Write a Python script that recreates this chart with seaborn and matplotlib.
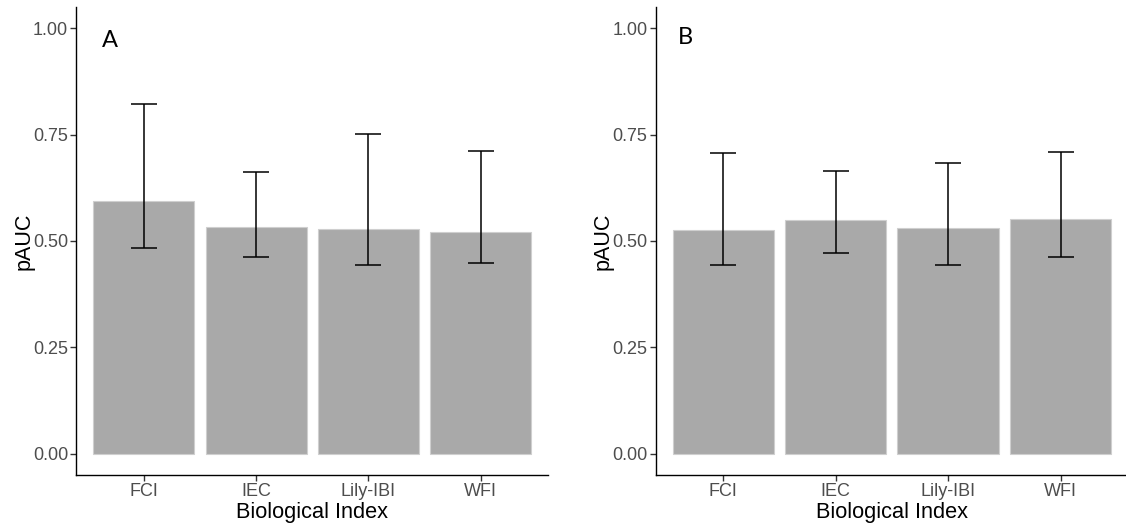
import numpy as np
import pandas as pd
import matplotlib
matplotlib.use("Agg")
import matplotlib.pyplot as plt
import seaborn as sns

# Biological indices and partial AUC estimates with confidence limits
indices = ["FCI", "IEC", "Lily-IBI", "WFI"]

pauc_a = [0.594, 0.533, 0.527, 0.522]
lower_a = [0.484, 0.462, 0.444, 0.449]
upper_a = [0.821, 0.663, 0.751, 0.711]

pauc_b = [0.525, 0.549, 0.530, 0.551]
lower_b = [0.444, 0.471, 0.444, 0.462]
upper_b = [0.706, 0.665, 0.684, 0.708]

panel_labels = ["A", "B"]
y_ticks = [0.00, 0.25, 0.50, 0.75, 1.00]

sns.set_style("ticks")
plt.rcParams["font.family"] = ["Liberation Sans", "DejaVu Sans"]

fig = plt.figure(figsize=(11.26, 5.31), dpi=100)
ax_a = fig.add_axes([0.0679, 0.1055, 0.4187, 0.8814])
ax_b = fig.add_axes([0.5823, 0.1055, 0.4195, 0.8814])

panels = [
    (ax_a, pauc_a, lower_a, upper_a, (0.071, 0.929)),
    (ax_b, pauc_b, lower_b, upper_b, (0.064, 0.934)),
]

for (ax, vals, lo, hi, lab_pos), lab in zip(panels, panel_labels):
    df = pd.DataFrame({"Biological Index": indices, "pAUC": vals})
    sns.barplot(data=df, x="Biological Index", y="pAUC", ax=ax,
                color="#A9A9A9", saturation=1, width=0.9,
                edgecolor="#CFCFCF", linewidth=0.8, errorbar=None)
    pos = np.arange(len(indices))
    v = np.array(vals)
    yerr = np.vstack([v - np.array(lo), np.array(hi) - v])
    ax.errorbar(pos, v, yerr=yerr, fmt="none", ecolor="black",
                elinewidth=1.1, capsize=9.7, capthick=1.1, zorder=5)

    ax.set_xlim(-0.6, 3.6)
    ax.set_ylim(-0.05, 1.05)
    ax.set_yticks(y_ticks)
    ax.set_yticklabels([f"{t:.2f}" for t in y_ticks])
    ax.set_xlabel("Biological Index", fontsize=15.7, color="black", labelpad=1)
    ax.set_ylabel("pAUC", fontsize=15.5, color="black", labelpad=-1)
    ax.tick_params(axis="both", labelsize=13, labelcolor="#4D4D4D",
                   color="#333333", length=4, width=1, pad=2)
    for side in ["top", "right"]:
        ax.spines[side].set_visible(False)
    for side in ["left", "bottom"]:
        ax.spines[side].set_color("black")
        ax.spines[side].set_linewidth(1.0)
    ax.set_facecolor("white")
    ax.text(lab_pos[0], lab_pos[1], lab, transform=ax.transAxes,
            ha="center", va="center", fontsize=17,
            family=["Lato", "DejaVu Sans"], color="black")

fig.savefig("out.png", dpi=100, facecolor="white")
